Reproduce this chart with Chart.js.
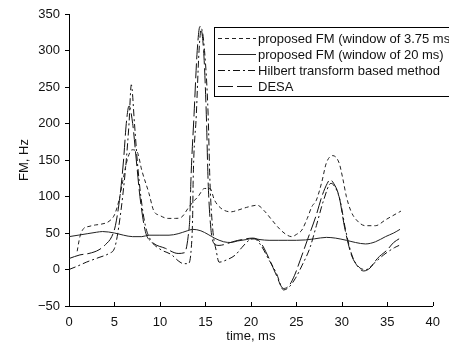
<!DOCTYPE html>
<html>
<head>
<meta charset="utf-8">
<script src="https://cdn.jsdelivr.net/npm/chart.js@4/dist/chart.umd.min.js"></script>
<style>
html,body{margin:0;padding:0;background:#fff;}
#wrap{width:449px;height:351px;position:relative;}
</style>
</head>
<body>
<div id="wrap"><canvas id="c" width="449" height="351"></canvas></div>
<script>
// ---- data ----
const seriesLabels = [
  'proposed FM (window of 3.75 ms)',
  'proposed FM (window of 20 ms)',
  'Hilbert transform based method',
  'DESA'
];
const xTicks = [0, 5, 10, 15, 20, 25, 30, 35, 40];
const yTicks = [-50, 0, 50, 100, 150, 200, 250, 300, 350];

const fm375T = [0.9, 1.2, 1.6, 2.2, 2.9, 3.5, 4.4, 5.0, 5.5, 5.9, 6.4, 6.95, 7.5, 8.0, 8.8, 9.3, 10.0, 10.9, 11.7, 12.4, 13.1, 13.6, 14.2, 14.9, 15.5, 16.0, 16.7, 17.8, 18.5, 19.5, 20.7, 21.5, 22.3, 23.2, 24.0, 24.5, 25.0, 25.6, 26.2, 26.7, 27.2, 27.8, 28.3, 29.0, 29.7, 30.1, 30.5, 31.0, 31.6, 32.6, 33.7, 34.8, 35.5, 36.5];
const fm375V = [25, 45, 56, 59, 61, 62, 66, 75, 95, 120, 150, 164, 161, 136, 104, 81, 74, 70, 70, 72, 84, 92, 100, 111, 111, 95, 84, 79, 81, 85, 88, 80, 68, 55, 47, 45, 48, 54, 70, 86, 95, 120, 146, 156, 146, 125, 100, 80, 68, 60, 60, 68, 73, 80];

const fm20T = [0, 1, 2, 3, 3.7, 5, 6, 7, 8, 8.8, 10, 11, 12, 13, 13.6, 14.5, 15.3, 16, 17, 17.8, 18.5, 19.5, 20.2, 21, 22, 23, 24, 25, 26, 27, 28.3, 29.3, 30.5, 31.5, 32.6, 33.7, 34.8, 35.7, 36.4];
const fm20V = [45, 47, 49, 51, 52, 50, 47, 45, 45, 47, 47, 47, 49, 53, 55, 53, 48, 43, 38, 37, 39, 41, 42.5, 41, 40, 40, 40, 40, 40.5, 42, 44, 43, 40, 37, 35, 38, 45, 50, 55];

const hilbertT = [0, 1, 1.9, 3.3, 4.4, 5.0, 5.3, 5.6, 5.9, 6.3, 6.6, 6.85, 7.2, 7.5, 7.9, 8.4, 9.0, 10.0, 11.3, 12.0, 12.6, 13.1, 13.45, 13.6, 13.65, 14.0, 14.3, 14.55, 14.9, 15.3, 15.5, 15.8, 16.2, 16.5, 17.3, 18.3, 19.0, 19.8, 20.4, 21.0, 22.0, 22.8, 23.6, 24.2, 24.9, 25.6, 26.5, 27.2, 28.0, 28.8, 29.3, 29.8, 30.4, 31.1, 31.9, 32.7, 33.5, 34.6, 35.8, 36.3];
const hilbertV = [0, 5, 10, 16.5, 22, 29, 45, 70, 100, 150, 200, 253, 200, 150, 100, 60, 40, 28, 20, 12, 8, 8, 30, 75, 120, 212, 300, 330, 300, 212, 120, 56, 25, 10, 13, 20, 30, 40, 42, 35, 13, -5, -28, -24, -12, 5, 30, 60, 95, 118, 112, 95, 55, 20, 3, 0, 8, 20, 30, 33];

const desaT = [0, 1.2, 2.2, 3.3, 4.0, 4.7, 5.1, 5.6, 6.0, 6.3, 6.6, 7.0, 7.4, 7.8, 8.4, 9.1, 10.6, 12.0, 12.7, 13.1, 13.3, 13.4, 13.75, 14.1, 14.4, 14.8, 15.1, 15.3, 15.6, 16.0, 16.5, 17.0, 18.0, 19.0, 20.2, 21.0, 22.0, 22.7, 23.6, 24.2, 24.8, 25.4, 26.2, 27.2, 27.8, 28.4, 28.7, 29.1, 29.7, 30.3, 31.0, 31.7, 32.4, 33.1, 33.9, 35.0, 35.7, 36.3];
const desaV = [15, 20, 22, 27, 34, 45, 60, 100, 150, 200, 224, 200, 150, 100, 52, 38, 29, 22, 23, 45, 75, 120, 212, 300, 333, 300, 212, 120, 56, 35, 33, 34, 38, 41, 43, 38, 15, -5, -26, -22, -8, 12, 40, 75, 100, 118, 123, 118, 100, 58, 22, 5, -2, 2, 15, 27, 37, 42];

// ---- build chart ----
const FONT = '"Liberation Sans", Arial, Helvetica, sans-serif';
const pts = (t, v) => t.map((x, i) => ({x: x, y: v[i]}));

const seriesT = [fm375T, fm20T, hilbertT, desaT];
const seriesV = [fm375V, fm20V, hilbertV, desaV];
const dashes = [[4, 3], [], [7, 3, 2, 3], [15, 4]];
const colors = ['#222', '#222', '#111', '#111'];

const datasets = seriesLabels.map((lab, i) => ({
  label: lab,
  data: pts(seriesT[i], seriesV[i]),
  borderColor: colors[i],
  borderWidth: 1,
  borderDash: dashes[i],
  pointRadius: 0,
  fill: false,
  cubicInterpolationMode: 'monotone'
}));

const boxLegend = {
  id: 'boxLegend',
  afterDraw(chart) {
    const ctx = chart.ctx;
    ctx.save();
    const x0 = 214.5, y0 = 27.5, w = 250, h = 69;
    ctx.fillStyle = '#fff';
    ctx.fillRect(x0, y0, w, h);
    ctx.strokeStyle = '#000';
    ctx.lineWidth = 1;
    ctx.setLineDash([]);
    ctx.strokeRect(x0, y0, w, h);
    ctx.font = '13px ' + FONT;
    ctx.textBaseline = 'middle';
    ctx.textAlign = 'left';
    chart.data.datasets.forEach((ds, i) => {
      const y = 38.5 + i * 16;
      ctx.beginPath();
      ctx.setLineDash(ds.borderDash || []);
      ctx.strokeStyle = ds.borderColor;
      ctx.lineWidth = 1;
      ctx.moveTo(218, y);
      ctx.lineTo(256, y);
      ctx.stroke();
      ctx.setLineDash([]);
      ctx.fillStyle = '#111';
      ctx.fillText(ds.label, 258, y + 0.5);
    });
    ctx.restore();
  }
};

const inwardXTicks = {
  id: 'inwardXTicks',
  afterDraw(chart) {
    const ctx = chart.ctx;
    const xs = chart.scales.x;
    const b = chart.chartArea.bottom;
    ctx.save();
    ctx.strokeStyle = '#000';
    ctx.lineWidth = 1;
    xTicks.forEach(v => {
      const px = Math.round(xs.getPixelForValue(v)) + 0.5;
      ctx.beginPath();
      ctx.moveTo(px, b);
      ctx.lineTo(px, b - 4);
      ctx.stroke();
    });
    ctx.restore();
  }
};

new Chart(document.getElementById('c'), {
  type: 'line',
  data: {datasets: datasets},
  options: {
    responsive: false,
    animation: false,
    layout: {padding: {top: 14, right: 11, left: 0, bottom: 0}},
    plugins: {legend: {display: false}, tooltip: {enabled: false}},
    scales: {
      x: {
        type: 'linear',
        min: 0, max: 40,
        afterBuildTicks: s => { s.ticks = xTicks.map(v => ({value: v})); },
        afterFit: s => { s.height = 45; },
        grid: {display: true, drawOnChartArea: false, drawTicks: false, color: '#000'},
        border: {display: true, color: '#000', width: 1},
        ticks: {color: '#111', font: {family: FONT, size: 13}, padding: 9, maxRotation: 0},
        title: {display: true, text: 'time, ms', color: '#111', font: {family: FONT, size: 13}, padding: {top: 0, bottom: 7}}
      },
      y: {
        type: 'linear',
        min: -50, max: 350,
        afterBuildTicks: s => { s.ticks = yTicks.map(v => ({value: v})); },
        afterFit: s => { s.width = 69; },
        grid: {display: true, drawOnChartArea: false, drawTicks: true, tickLength: 4, color: '#000'},
        border: {display: true, color: '#000', width: 1},
        ticks: {color: '#111', font: {family: FONT, size: 13}, padding: 5,
          callback: v => String(v).replace('-', '\u2212')},
        title: {display: true, text: 'FM, Hz', color: '#111', font: {family: FONT, size: 13}, padding: {top: 17, bottom: 0}}
      }
    }
  },
  plugins: [boxLegend, inwardXTicks]
});
</script>
</body>
</html>
